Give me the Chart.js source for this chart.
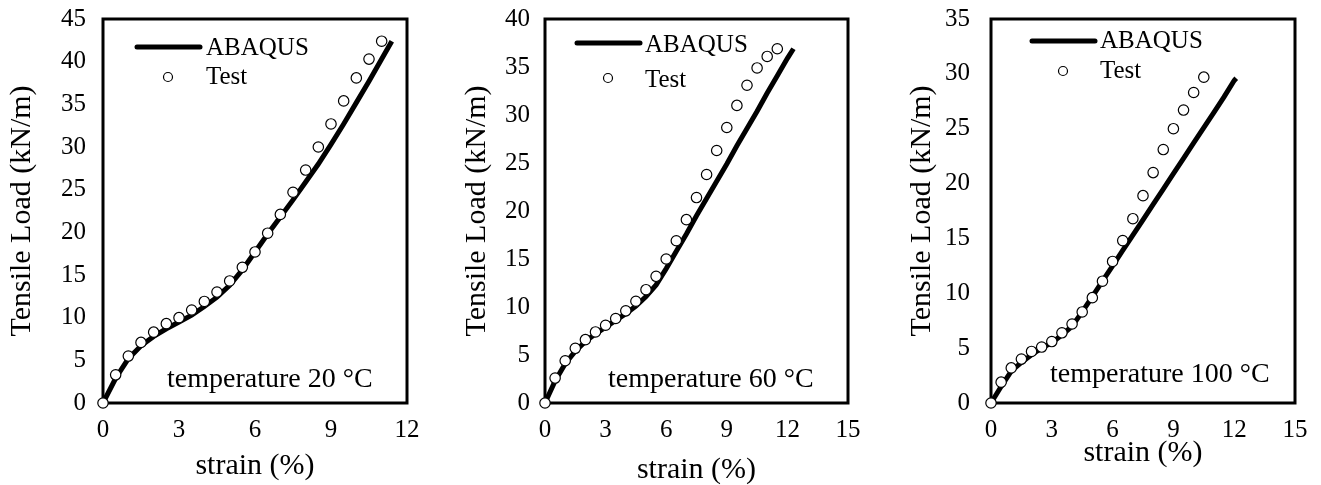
<!DOCTYPE html>
<html>
<head>
<meta charset="utf-8">
<script src="https://cdn.jsdelivr.net/npm/chart.js@4.4.1/dist/chart.umd.min.js"></script>
<style>
  html, body { margin: 0; padding: 0; background: #fff; overflow: hidden; }
  #wrap { position: relative; width: 1321px; height: 485px; }
  canvas { position: absolute; top: 0; }
</style>
</head>
<body>
<div id="wrap">
  <canvas id="c20" width="440" height="485" style="left:0px"></canvas>
  <canvas id="c60" width="440" height="485" style="left:440px"></canvas>
  <canvas id="c100" width="441" height="485" style="left:880px"></canvas>
</div>
<script>
// 20 °C
const testStrain20 = [0, 0.5, 1, 1.5, 2, 2.5, 3, 3.5, 4, 4.5, 5, 5.5, 6, 6.5, 7, 7.5, 8, 8.5, 9, 9.5, 10, 10.5, 11];
const testLoad20 = [0, 3.3, 5.5, 7.1, 8.3, 9.3, 10.0, 10.9, 11.9, 13.0, 14.3, 15.9, 17.7, 19.9, 22.1, 24.7, 27.3, 30.0, 32.7, 35.4, 38.1, 40.3, 42.4];
const femStrain20 = [0, 0.5, 1, 1.5, 2, 2.5, 3, 3.5, 4, 4.5, 5, 5.5, 6, 6.5, 7, 7.5, 8, 8.5, 9, 9.5, 10, 10.5, 11, 11.4];
const femLoad20 = [0, 2.9, 5.2, 6.7, 7.8, 8.7, 9.5, 10.3, 11.3, 12.4, 13.8, 15.6, 17.7, 19.8, 21.8, 23.8, 25.9, 28.0, 30.3, 32.7, 35.2, 37.7, 40.3, 42.4];

// 60 °C
const testStrain60 = [0, 0.5, 1, 1.5, 2, 2.5, 3, 3.5, 4, 4.5, 5, 5.5, 6, 6.5, 7, 7.5, 8, 8.5, 9, 9.5, 10, 10.5, 11, 11.5];
const testLoad60 = [0, 2.6, 4.4, 5.7, 6.6, 7.4, 8.1, 8.8, 9.6, 10.6, 11.8, 13.2, 15.0, 16.9, 19.1, 21.4, 23.8, 26.3, 28.7, 31.0, 33.1, 34.9, 36.1, 36.9];
const femStrain60 = [0, 0.5, 1, 1.5, 2, 2.5, 3, 3.5, 4, 4.5, 5, 5.5, 6, 6.5, 7, 7.5, 8, 8.5, 9, 9.5, 10, 10.5, 11, 11.5, 12, 12.3];
const femLoad60 = [0, 2.3, 4.1, 5.4, 6.4, 7.2, 7.9, 8.6, 9.3, 10.1, 11.1, 12.3, 14.0, 15.8, 17.6, 19.5, 21.3, 23.1, 24.9, 26.8, 28.6, 30.4, 32.3, 34.1, 35.9, 36.9];

// 100 °C
const testStrain100 = [0, 0.5, 1, 1.5, 2, 2.5, 3, 3.5, 4, 4.5, 5, 5.5, 6, 6.5, 7, 7.5, 8, 8.5, 9, 9.5, 10, 10.5];
const testLoad100 = [0, 1.9, 3.2, 4.0, 4.7, 5.1, 5.6, 6.4, 7.2, 8.3, 9.6, 11.1, 12.9, 14.8, 16.8, 18.9, 21.0, 23.1, 25.0, 26.7, 28.3, 29.7];
const femStrain100 = [0, 0.5, 1, 1.5, 2, 2.5, 3, 3.5, 4, 4.5, 5, 5.5, 6, 6.5, 7, 7.5, 8, 8.5, 9, 9.5, 10, 10.5, 11, 11.5, 12, 12.1];
const femLoad100 = [0, 1.5, 2.9, 3.7, 4.4, 5.0, 5.5, 6.2, 7.0, 8.3, 9.7, 11.1, 12.5, 13.9, 15.3, 16.7, 18.1, 19.5, 20.9, 22.3, 23.7, 25.1, 26.5, 27.9, 29.4, 29.6];

const xTicks = [0, 3, 6, 9, 12, 15];
const seriesNames = ['ABAQUS', 'Test'];
const xTitle = 'strain (%)';
const yTitle = 'Tensile Load (kN/m)';

const FONT = '"Liberation Serif", "Times New Roman", serif';

function pts(xs, ys) {
  return xs.map((x, i) => ({ x, y: ys[i] }));
}

// draws the full box round the plot area
const framePlugin = {
  id: 'frame',
  beforeDatasetsDraw(chart) {
    const { ctx, chartArea: a } = chart;
    ctx.save();
    ctx.strokeStyle = '#000';
    ctx.lineWidth = 3;
    ctx.strokeRect(a.left, a.top, a.right - a.left, a.bottom - a.top);
    ctx.restore();
  },
};

// legend and temperature label placed inside the plot
const notesPlugin = {
  id: 'notes',
  afterDatasetsDraw(chart, _args, opts) {
    const { ctx } = chart;
    const lg = opts.legend;
    ctx.save();
    ctx.fillStyle = '#000';
    ctx.strokeStyle = '#000';
    ctx.lineWidth = 5;
    ctx.lineCap = 'round';
    ctx.beginPath();
    ctx.moveTo(lg.x0, lg.lineY);
    ctx.lineTo(lg.x1, lg.lineY);
    ctx.stroke();
    ctx.lineWidth = 1.2;
    ctx.beginPath();
    ctx.arc(lg.cx, lg.cy, 4.5, 0, Math.PI * 2);
    ctx.fillStyle = '#fff';
    ctx.fill();
    ctx.stroke();
    ctx.fillStyle = '#000';
    ctx.textBaseline = 'alphabetic';
    ctx.textAlign = 'left';
    ctx.font = '25px ' + FONT;
    ctx.fillText(seriesNames[0], lg.tx, lg.b1);
    ctx.fillText(seriesNames[1], lg.tx, lg.b2);
    ctx.font = '28px ' + FONT;
    ctx.fillText(opts.note.text, opts.note.x, opts.note.y);
    ctx.restore();
  },
};

function makeChart(id, p) {
  const off = p.left;
  return new Chart(document.getElementById(id), {
    type: 'scatter',
    data: {
      datasets: [
        {
          label: seriesNames[0],
          data: pts(p.femX, p.femY),
          showLine: true,
          borderColor: '#000',
          borderWidth: 5,
          pointRadius: 0,
          order: 1,
          clip: false,
        },
        {
          label: seriesNames[1],
          data: pts(p.testX, p.testY),
          showLine: false,
          pointRadius: 5.2,
          pointBackgroundColor: '#fff',
          pointBorderColor: '#000',
          pointBorderWidth: 1.2,
          order: 0,
          clip: false,
        },
      ],
    },
    options: {
      responsive: false,
      animation: false,
      devicePixelRatio: 1,
      layout: { padding: { top: 19, right: p.padRight, left: 0, bottom: 0 } },
      plugins: {
        legend: { display: false },
        tooltip: { enabled: false },
        notes: {
          legend: {
            x0: p.lg.x0 - off, x1: p.lg.x1 - off, lineY: p.lg.lineY,
            tx: p.lg.tx - off, b1: p.lg.b1,
            cx: p.lg.cx - off, cy: p.lg.cy, b2: p.lg.b2,
          },
          note: { text: p.note, x: p.noteX - off, y: p.noteY },
        },
      },
      scales: {
        x: {
          type: 'linear',
          min: 0,
          max: p.xMax,
          afterBuildTicks: (s) => {
            s.ticks = xTicks.filter((v) => v <= p.xMax).map((v) => ({ value: v }));
          },
          afterFit: (s) => { s.height = 82; },
          grid: { display: false, drawTicks: false },
          border: { display: false },
          ticks: {
            color: '#000',
            padding: 12,
            maxRotation: 0,
            font: { family: FONT, size: 25 },
          },
          title: {
            display: true,
            text: xTitle,
            color: '#000',
            font: { family: FONT, size: 30, lineHeight: 1 },
            padding: { top: 0, bottom: p.xTitlePad },
          },
        },
        y: {
          min: 0,
          max: p.yMax,
          afterFit: (s) => {
            s.width = p.yAxisWidth;
            s.paddingTop = 0;
            s.paddingBottom = 0;
          },
          grid: { display: false, drawTicks: false },
          border: { display: false },
          ticks: {
            stepSize: 5,
            color: '#000',
            padding: p.yTickPad,
            font: { family: FONT, size: 25 },
          },
          title: {
            display: true,
            text: yTitle,
            color: '#000',
            font: { family: FONT, size: 30, lineHeight: 1 },
            padding: { top: p.yTitlePad, bottom: 0 },
          },
        },
      },
    },
    plugins: [framePlugin, notesPlugin],
  });
}

makeChart('c20', {
  left: 0, femX: femStrain20, femY: femLoad20, testX: testStrain20, testY: testLoad20,
  xMax: 12, yMax: 45, yAxisWidth: 103, padRight: 33, yTickPad: 17, yTitlePad: 7.5, xTitlePad: 4,
  lg: { x0: 137, x1: 200, lineY: 47, tx: 206, b1: 55, cx: 168, cy: 77, b2: 84 },
  note: 'temperature 20 °C', noteX: 167, noteY: 387,
});

makeChart('c60', {
  left: 440, femX: femStrain60, femY: femLoad60, testX: testStrain60, testY: testLoad60,
  xMax: 15, yMax: 40, yAxisWidth: 105, padRight: 32, yTickPad: 15, yTitlePad: 22.5, xTitlePad: 0,
  lg: { x0: 577, x1: 640, lineY: 43, tx: 645, b1: 52, cx: 608, cy: 78, b2: 87 },
  note: 'temperature 60 °C', noteX: 608, noteY: 387,
});

makeChart('c100', {
  left: 880, femX: femStrain100, femY: femLoad100, testX: testStrain100, testY: testLoad100,
  xMax: 15, yMax: 35, yAxisWidth: 111, padRight: 26, yTickPad: 21, yTitlePad: 27, xTitlePad: 17,
  lg: { x0: 1032, x1: 1095, lineY: 41, tx: 1100, b1: 48, cx: 1063, cy: 71, b2: 78 },
  note: 'temperature 100 °C', noteX: 1050, noteY: 382,
});
</script>
</body>
</html>
